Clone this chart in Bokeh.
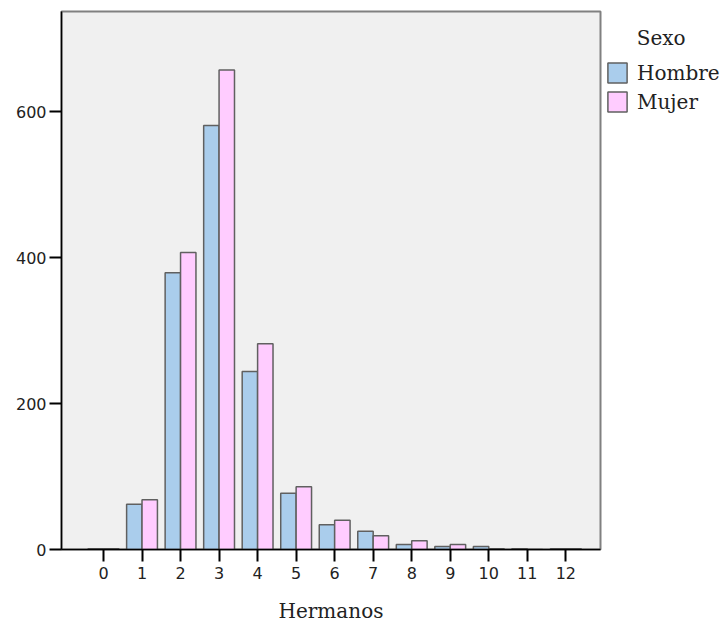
from bokeh.plotting import figure
from bokeh.models import Range1d, FixedTicker, Legend, LegendItem, ColumnDataSource
from bokeh.transform import dodge
from bokeh.embed import file_html
from bokeh.resources import INLINE

hermanos = [0, 1, 2, 3, 4, 5, 6, 7, 8, 9, 10, 11, 12]
hombre = [1, 62, 379, 581, 244, 77, 34, 25, 7, 4, 4, 1, 1]
mujer = [1, 68, 407, 657, 282, 86, 40, 19, 12, 7, 1, 0, 1]
y_ticks = [0, 200, 400, 600]
series_names = ["Hombre", "Mujer"]
legend_title = "Sexo"
colors = ["#AACDEC", "#FFCCFF"]

src = ColumnDataSource(dict(x=hermanos, hombre=hombre, mujer=mujer))

p = figure(frame_width=539, frame_height=538, output_backend="svg", toolbar_location=None,
           x_range=Range1d(-1.09, 12.9), y_range=Range1d(0, 737),
           min_border_left=61, min_border_right=0, min_border_top=11, min_border_bottom=72)
p.background_fill_color = "#F0F0F0"
p.border_fill_color = "white"
p.outline_line_color = "#808080"
p.outline_line_width = 2
p.grid.visible = False

r1 = p.vbar(x=dodge("x", -0.2, range=p.x_range), top="hombre", width=0.4, source=src,
            fill_color=colors[0], line_color="#606060", line_width=1.5)
r2 = p.vbar(x=dodge("x", 0.2, range=p.x_range), top="mujer", width=0.4, source=src,
            fill_color=colors[1], line_color="#606060", line_width=1.5)

for ax in (p.xaxis[0], p.yaxis[0]):
    ax.axis_line_color = "black"
    ax.axis_line_width = 1.5
    ax.major_tick_line_color = "black"
    ax.major_tick_line_width = 2
    ax.major_tick_in = 0
    ax.minor_tick_line_color = None
    ax.major_label_text_font = "DejaVu Sans"
    ax.major_label_text_font_size = "16px"
    ax.major_label_text_color = "#222222"

p.xaxis.ticker = FixedTicker(ticks=hermanos)
p.xaxis.major_tick_out = 12
p.xaxis.major_label_standoff = 5
p.xaxis.axis_label = "Hermanos"
p.xaxis.axis_label_text_font = "DejaVu Serif"
p.xaxis.axis_label_text_font_size = "20px"
p.xaxis.axis_label_text_font_style = "normal"
p.xaxis.axis_label_text_color = "#222222"
p.xaxis.axis_label_standoff = 17

p.yaxis.ticker = FixedTicker(ticks=y_ticks)
p.yaxis.major_tick_out = 12
p.yaxis.major_label_standoff = 3

legend = Legend(items=[LegendItem(label=series_names[0], renderers=[r1]),
                       LegendItem(label=series_names[1], renderers=[r2])],
                title="\u00a0\u00a0\u00a0\u00a0\u00a0" + legend_title,
                title_text_font="DejaVu Serif", title_text_font_size="20px",
                title_text_font_style="normal", title_text_color="#222222",
                title_standoff=10,
                location=(5, 435), padding=0, margin=0, spacing=4,
                glyph_width=24, glyph_height=25, label_height=25, label_standoff=8,
                border_line_color=None, background_fill_alpha=0,
                label_text_font="DejaVu Serif", label_text_font_size="20px",
                label_text_color="#222222")
p.add_layout(legend, "right")

open("out.html", "w").write(file_html(p, INLINE))
